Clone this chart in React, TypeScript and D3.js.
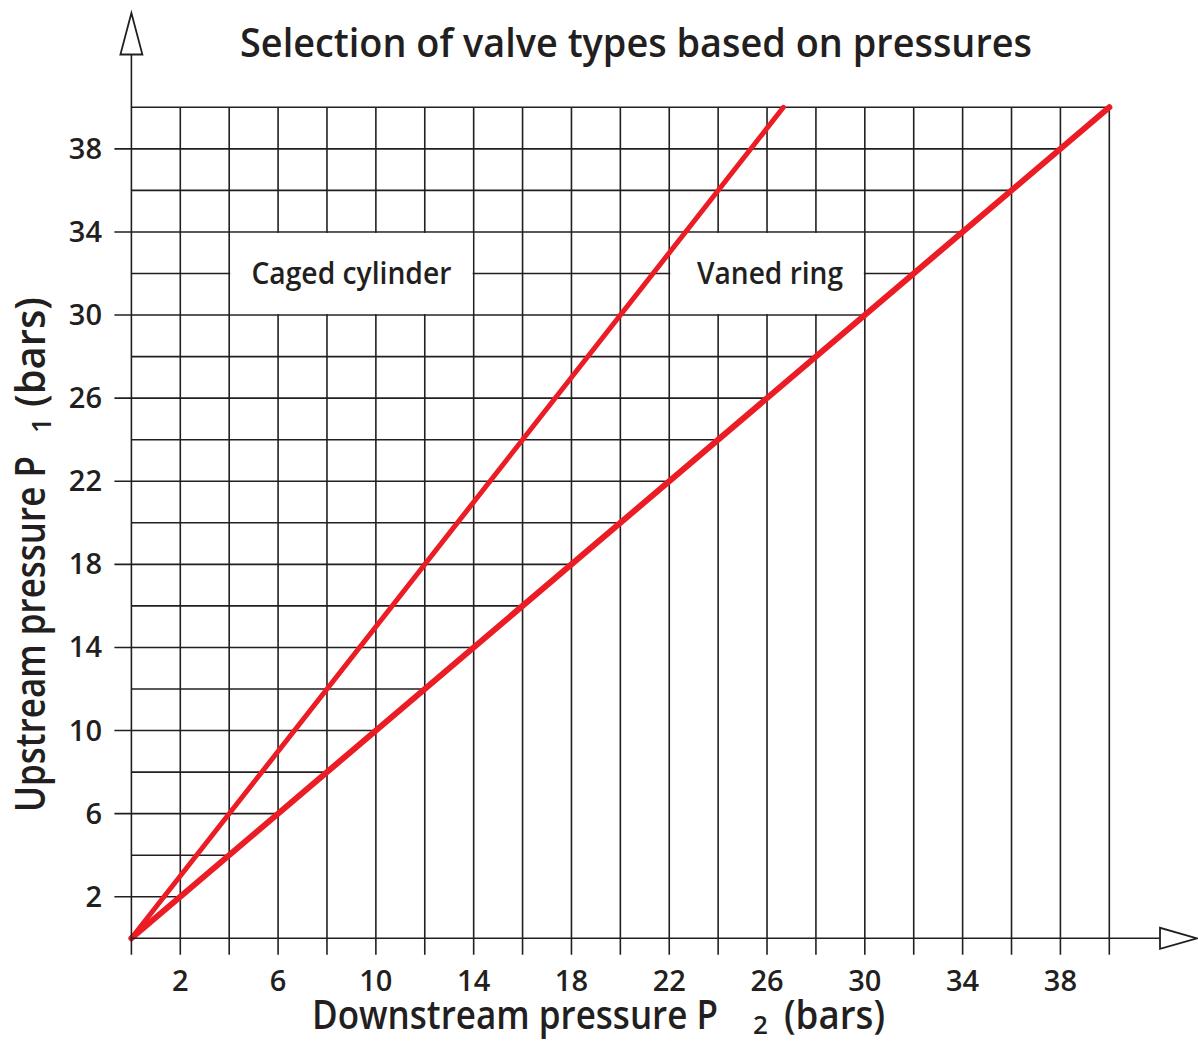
import React from "react";
import * as d3 from "d3";

const W = 1198;
const H = 1041;

// Data
const titleText = "Selection of valve types based on pressures";
const xTickLabels = [2, 6, 10, 14, 18, 22, 26, 30, 34, 38];
const yTickLabels = [2, 6, 10, 14, 18, 22, 26, 30, 34, 38];
const gridValues = [2, 4, 6, 8, 10, 12, 14, 16, 18, 20, 22, 24, 26, 28, 30, 32, 34, 36, 38, 40];
// Boundary lines: downstream P2 (x) vs upstream P1 (y)
const cagedBoundary = [
  { p2: 0, p1: 0 },
  { p2: 26.67, p1: 40 },
];
const vanedBoundary = [
  { p2: 0, p1: 0 },
  { p2: 40, p1: 40 },
];
const regionNames = ["Caged cylinder", "Vaned ring"];
const regionP2From = [4, 22];
const regionP2To = [14, 30];
const regionP1From = [30, 30];
const regionP1To = [34, 34];
const regionTextWidths = [200, 146];

const FONT = "'Open Sans', 'Noto Sans', sans-serif";
const INK = "#231f20";
const RED = "#ec1c24";

export default function App() {
  const x = d3.scaleLinear().domain([0, 40]).range([131.4, 1109.3]);
  const y = d3.scaleLinear().domain([0, 40]).range([938.3, 107.3]);
  const line = d3
    .line<{ p2: number; p1: number }>()
    .x((d) => x(d.p2))
    .y((d) => y(d.p1));

  const x0 = x(0);
  const y0 = y(0);

  return (
    <svg
      width={W}
      height={H}
      style={{ position: "absolute", left: 0, top: 0, background: "#fff" }}
      fontFamily={FONT}
    >
      <rect x={0} y={0} width={W} height={H} fill="#fff" />
      {/* vertical grid lines */}
      <g stroke={INK} strokeWidth={1.6}>
        {gridValues.map((v) => (
          <line key={"v" + v} x1={x(v)} x2={x(v)} y1={y(40)} y2={y0 + 16.5} />
        ))}
        {/* horizontal grid lines, ending on the vaned-ring boundary */}
        {gridValues.map((v) => (
          <line
            key={"h" + v}
            x1={yTickLabels.includes(v) ? x0 - 17 : x0}
            x2={x(Math.min(v, 40))}
            y1={y(v)}
            y2={y(v)}
          />
        ))}
      </g>

      {/* region label boxes */}
      {regionNames.map((name, i) => {
        const bx0 = x(regionP2From[i]);
        const bx1 = x(regionP2To[i]);
        const by0 = y(regionP1To[i]);
        const by1 = y(regionP1From[i]);
        return (
          <g key={name}>
            <rect x={bx0 + 1} y={by0 + 1} width={bx1 - bx0 - 2} height={by1 - by0 - 2} fill="#fff" />
            <text
              x={(bx0 + bx1) / 2 + (i === 1 ? 3 : 0)}
              y={(by0 + by1) / 2 + 10.5}
              textAnchor="middle"
              fontSize={30}
              fontWeight={600}
              fill={INK}
              textLength={regionTextWidths[i]}
              lengthAdjust="spacingAndGlyphs"
            >
              {name}
            </text>
          </g>
        );
      })}

      {/* boundary lines */}
      <path d={line(cagedBoundary) || ""} fill="none" stroke={RED} strokeWidth={5} strokeLinecap="round" />
      <path d={line(vanedBoundary) || ""} fill="none" stroke={RED} strokeWidth={6} strokeLinecap="round" />

      {/* axes */}
      <g stroke={INK} strokeWidth={1.6} fill="#fff">
        <line x1={x0} x2={x0} y1={y0 + 16.5} y2={54} />
        <line x1={x0} x2={1160} y1={y0} y2={y0} />
        <path d={`M${x0 - 11},54.5 L${x0 + 11},54.5 L${x0},13 Z`} strokeWidth={1.8} />
        <path d={`M1160,${y0 - 10.5} L1160,${y0 + 10.5} L1197,${y0} Z`} strokeWidth={1.8} />
      </g>

      {/* tick labels */}
      <g fontSize={29} fontWeight={600} fill={INK}>
        {xTickLabels.map((v) => (
          <text key={"xt" + v} x={x(v)} y={991} textAnchor="middle">
            {v}
          </text>
        ))}
        {yTickLabels.map((v) => (
          <text key={"yt" + v} x={102} y={y(v) + 10} textAnchor="end">
            {v}
          </text>
        ))}
      </g>

      {/* title */}
      <text x={240} y={57} fontSize={40} fontWeight={600} fill={INK} textLength={792} lengthAdjust="spacingAndGlyphs">
        {titleText}
      </text>

      {/* x axis title */}
      <g fill={INK} fontWeight={600}>
        <text x={312} y={1029} fontSize={40} textLength={406} lengthAdjust="spacingAndGlyphs">
          Downstream pressure P
        </text>
        <text x={753} y={1034} fontSize={26}>
          2
        </text>
        <text x={784} y={1029} fontSize={40} textLength={101} lengthAdjust="spacingAndGlyphs">
          (bars)
        </text>
      </g>

      {/* y axis title */}
      <g fill={INK} fontWeight={600} transform="translate(45,0) rotate(-90)">
        <text x={-812} y={0} fontSize={41} textLength={356} lengthAdjust="spacingAndGlyphs">
          Upstream pressure P
        </text>
        <text x={-433} y={6} fontSize={27}>
          1
        </text>
        <text x={-407} y={0} fontSize={41} textLength={110} lengthAdjust="spacingAndGlyphs">
          (bars)
        </text>
      </g>
    </svg>
  );
}
